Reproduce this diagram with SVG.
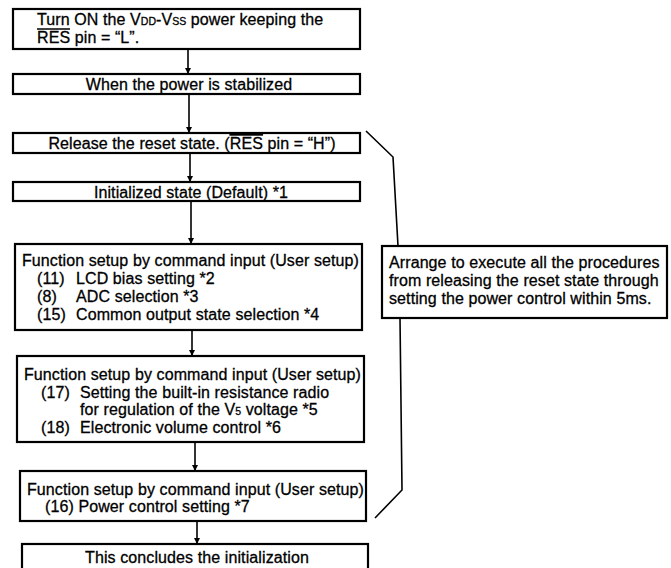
<svg xmlns="http://www.w3.org/2000/svg" width="671" height="568" viewBox="0 0 671 568">
<defs>
<style>
.box{fill:#fff;stroke:#000;stroke-width:2.2}
.t{font-family:"Liberation Sans",Arial,Helvetica,sans-serif;font-size:16px;fill:#000;stroke:#000;stroke-width:0.3;letter-spacing:0.1px}
.c{text-anchor:middle}
.sm{font-size:10.5px;letter-spacing:0}
.conn{stroke:#000;stroke-width:1.6;fill:none}
.ov{stroke:#000;stroke-width:1.3}
</style>
<marker id="ah" viewBox="0 0 6 6" refX="6" refY="3" markerWidth="6" markerHeight="6" markerUnits="userSpaceOnUse" orient="auto">
<path d="M0,0 L6,3 L0,6 z" fill="#000"/>
</marker>
</defs>
<rect width="671" height="568" fill="#fff"/>
<g id="connectors">
<line class="conn" x1="188" y1="49" x2="188" y2="74" marker-end="url(#ah)"/>
<line class="conn" x1="189" y1="94" x2="189" y2="133" marker-end="url(#ah)"/>
<line class="conn" x1="190" y1="153" x2="190" y2="182" marker-end="url(#ah)"/>
<line class="conn" x1="191" y1="201" x2="191" y2="244" marker-end="url(#ah)"/>
<line class="conn" x1="192" y1="330" x2="192" y2="356" marker-end="url(#ah)"/>
<line class="conn" x1="195" y1="442" x2="195" y2="471" marker-end="url(#ah)"/>
<line class="conn" x1="197" y1="521" x2="197" y2="544" marker-end="url(#ah)"/>
<path class="conn" d="M366,131 L393,157 L398,246"/>
<path class="conn" d="M400,318 L402,490 L375,518"/>
</g>
<g id="n1">
<rect class="box" x="13" y="9" width="347" height="40"/>
<text class="t" x="37" y="25">Turn ON the V<tspan class="sm">DD</tspan>-V<tspan class="sm">SS</tspan> power keeping the</text>
<text class="t" x="37" y="43">RES pin = “L”.</text>
<line class="ov" x1="37" y1="29" x2="70" y2="29"/>
</g>
<g id="n2">
<rect class="box" x="13" y="74" width="347" height="20"/>
<text class="t c" x="189" y="90">When the power is stabilized</text>
</g>
<g id="n3">
<rect class="box" x="13" y="133" width="347" height="20"/>
<text class="t c" x="192" y="149">Release the reset state. (<tspan text-decoration="overline">RES</tspan> pin = “H”)</text>
</g>
<g id="n4">
<rect class="box" x="13" y="182" width="347" height="19"/>
<text class="t c" x="191" y="197.5">Initialized state (Default) *1</text>
</g>
<g id="n5">
<rect class="box" x="15" y="244" width="347" height="86"/>
<text class="t" x="22" y="266">Function setup by command input (User setup)</text>
<text class="t" x="37" y="284">(11)</text><text class="t" x="76" y="284">LCD bias setting *2</text>
<text class="t" x="37" y="302">(8)</text><text class="t" x="76" y="302">ADC selection *3</text>
<text class="t" x="37" y="320">(15)</text><text class="t" x="76" y="320">Common output state selection *4</text>
</g>
<g id="n6">
<rect class="box" x="17" y="356" width="347" height="86"/>
<text class="t" x="24" y="380">Function setup by command input (User setup)</text>
<text class="t" x="41" y="397.5">(17)</text><text class="t" x="80" y="397.5">Setting the built-in resistance radio</text>
<text class="t" x="80" y="415">for regulation of the V<tspan class="sm">5</tspan> voltage *5</text>
<text class="t" x="41" y="432.5">(18)</text><text class="t" x="80" y="432.5">Electronic volume control *6</text>
</g>
<g id="n7">
<rect class="box" x="20" y="471" width="346" height="50"/>
<text class="t" x="27" y="495">Function setup by command input (User setup)</text>
<text class="t" x="45" y="512">(16) Power control setting *7</text>
</g>
<g id="n8">
<rect class="box" x="22" y="544" width="346" height="32"/>
<text class="t c" x="197" y="563">This concludes the initialization</text>
</g>
<g id="callout">
<rect class="box" x="382" y="246" width="285" height="72"/>
<text class="t" x="389" y="268">Arrange to execute all the procedures</text>
<text class="t" x="389" y="286">from releasing the reset state through</text>
<text class="t" x="389" y="304">setting the power control within 5ms.</text>
</g>
</svg>
